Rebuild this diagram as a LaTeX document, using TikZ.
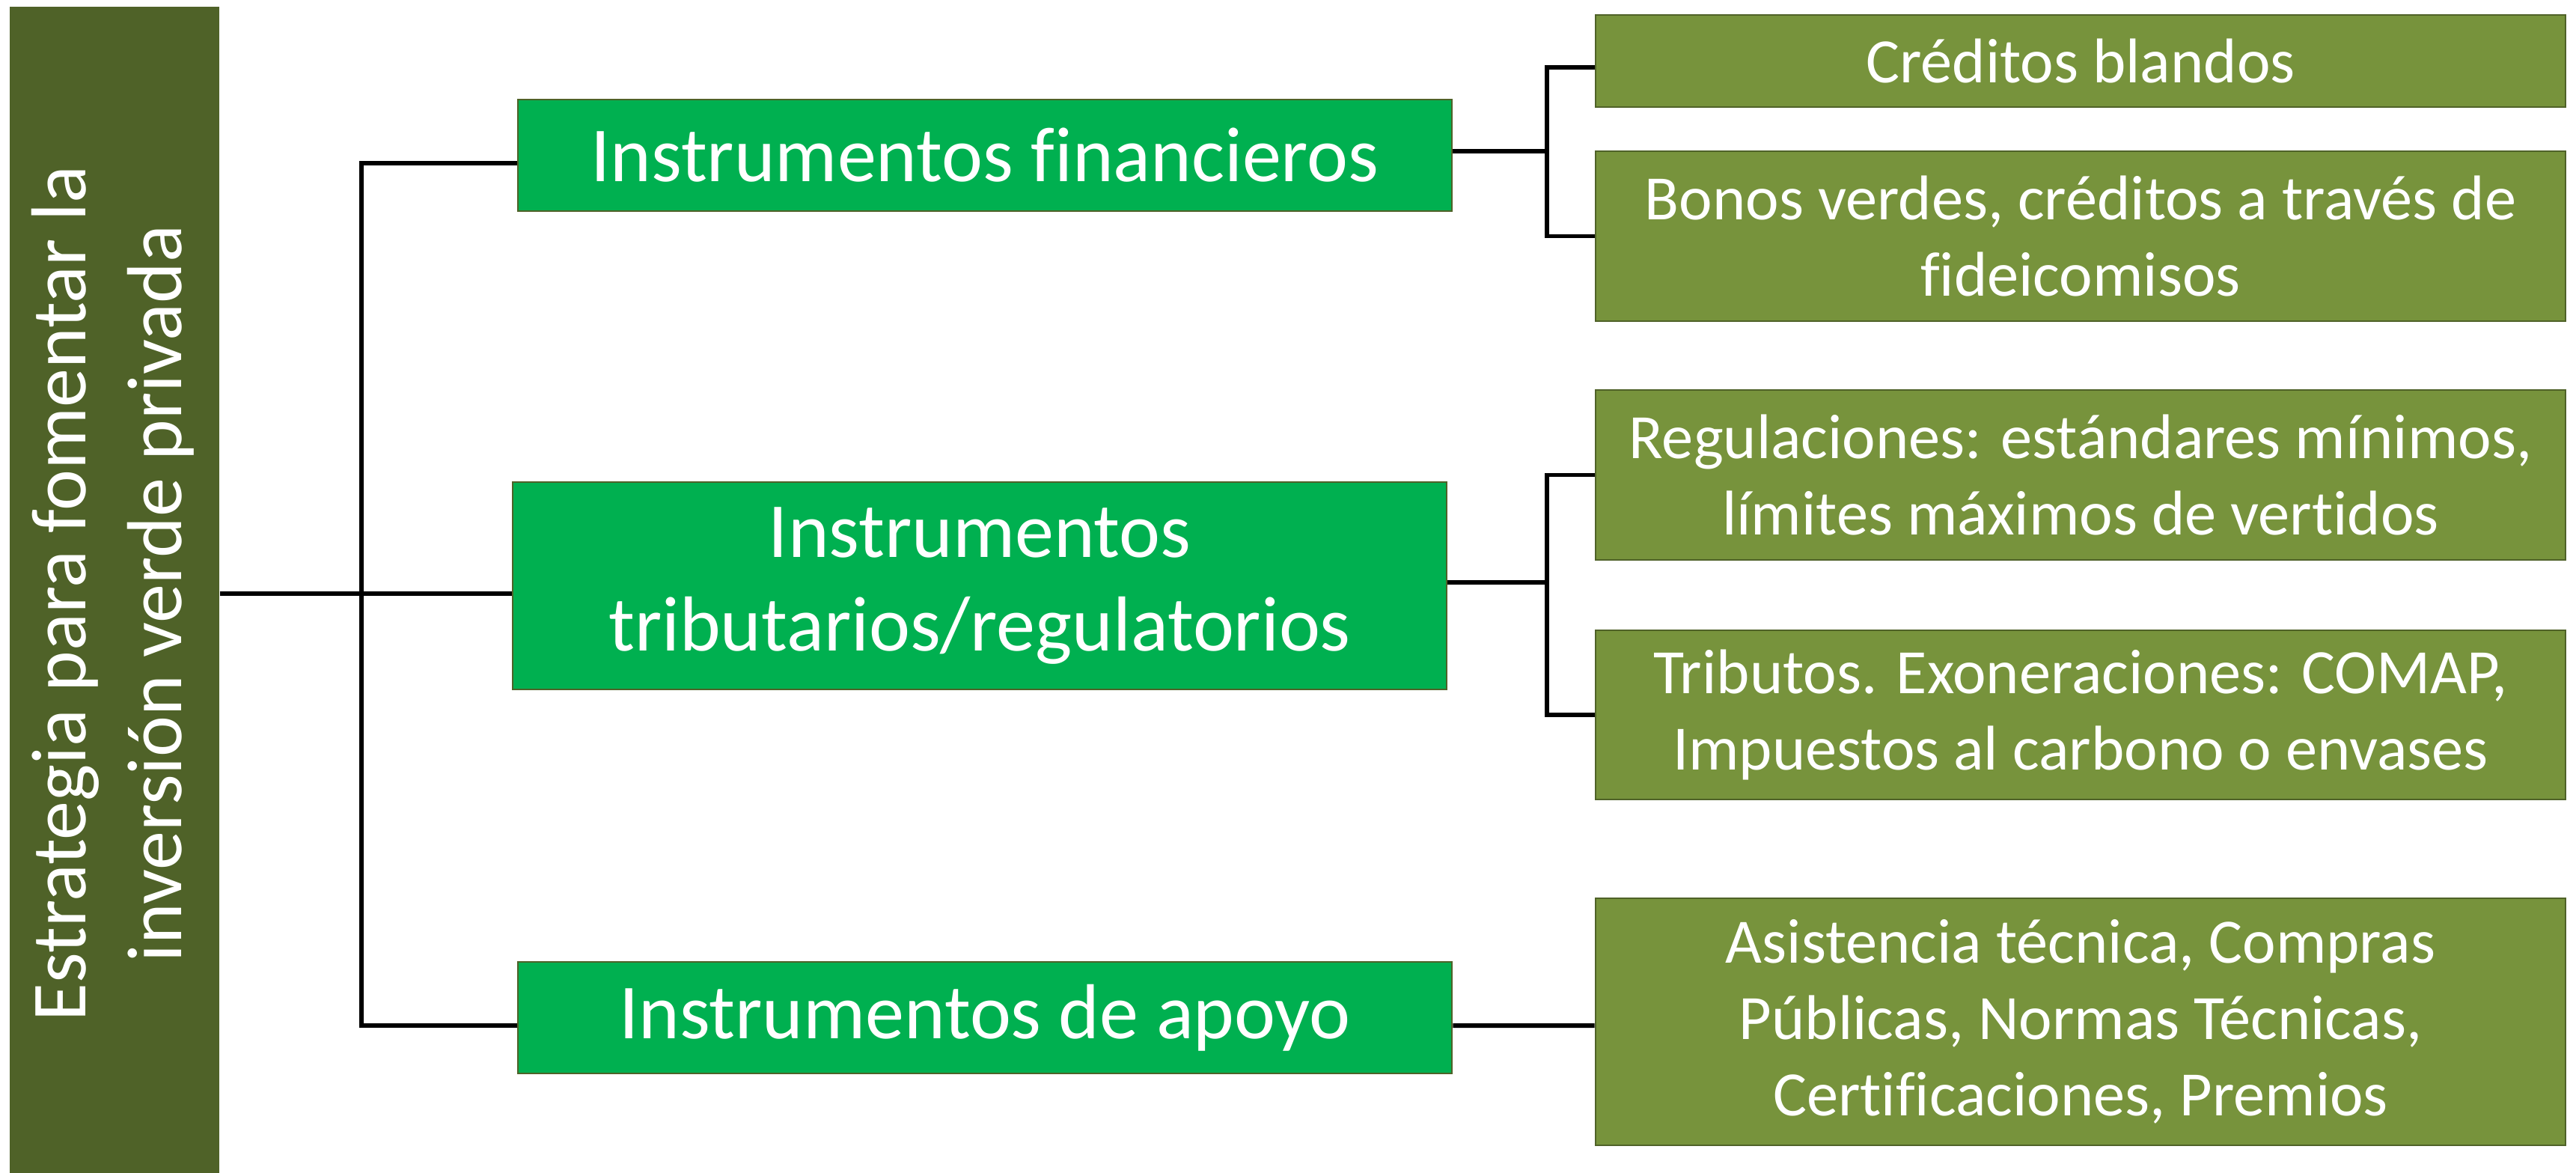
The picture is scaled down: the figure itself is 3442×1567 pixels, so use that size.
\documentclass[tikz,border=0pt]{standalone}
\usepackage{fontspec}
\setmainfont{Carlito}[Ligatures=NoCommon]
\usepackage{graphicx}
\usetikzlibrary{positioning}
\definecolor{olivedark}{HTML}{4F6228}
\definecolor{instgreen}{HTML}{00B050}
\definecolor{itemolive}{HTML}{77933C}
\tikzset{
    rootbox/.style={fill=olivedark, text=white, inner sep=0pt, minimum width=2.8cm, minimum height=15.68cm, font=\fontsize{29.6}{36.4}\selectfont},
    instbox/.style={fill=instgreen, draw=olivedark, line width=0.6pt, text=white, align=center, inner sep=0pt, minimum width=12.48cm, font=\fontsize{29.6}{35.5}\selectfont},
    itembox/.style={fill=itemolive, draw=olivedark, line width=0.6pt, text=white, align=center, inner sep=0pt, minimum width=12.96cm, font=\fontsize{24}{29}\selectfont},
    link/.style={draw=black, line width=1.7pt},
  }

\begin{document}
\begin{tikzpicture}[x=0.01cm,y=-0.01cm]
							\pgfmathsetmacro\instx{1316}
							\pgfmathsetmacro\itemx{2780}
							\useasboundingbox (0,0) rectangle (3442,1567);

							\node[rootbox] (root) at (153,793) {\rotatebox{90}{\begin{tabular}{@{}c@{}}Estrategia para fomentar la\\inversión verde privada\end{tabular}}};

							\node[instbox, minimum height=1.49cm] (fin) at (\instx,207.5) {Instrumentos financieros};
							\node[instbox, minimum height=2.77cm] (trib) at (\instx-7,782.5) {Instrumentos\\tributarios/regulatorios};
							\node[instbox, minimum height=1.49cm] (apoyo) at (\instx,1359.5) {Instrumentos de apoyo};

							\node[itembox, minimum height=1.23cm] (cred) at (\itemx,81.5) {Créditos blandos};
							\node[itembox, minimum height=2.27cm] (bonos) at (\itemx,315.5) {Bonos verdes, créditos a través de\\fideicomisos};
							\node[itembox, minimum height=2.27cm] (regul) at (\itemx,634.5) {Regulaciones: estándares mínimos,\\límites máximos de vertidos};
							\node[itembox, minimum height=2.26cm] (tribu) at (\itemx,955) {Tributos. Exoneraciones: COMAP,\\Impuestos al carbono o envases};
							\node[itembox, minimum height=3.30cm] (asist) at (\itemx,1365) {Asistencia técnica, Compras\\Públicas, Normas Técnicas,\\Certificaciones, Premios};

							% tronco
							\draw[link] (root.east) -- (trib.west |- root.east);
							\draw[link] ([yshift=-1.05mm]fin.west) -- ++(-208,0) |- ([yshift=-1.05mm]apoyo.west);

							\draw[link] ([yshift=0.55mm]fin.east) -- ++(128,0);
							\draw[link] ([yshift=-0.85mm]cred.west) -- ++(-64,0) |- (bonos.west);
							\draw[link] ([yshift=0.45mm]trib.east) -- ++(135,0);
							\draw[link] (regul.west) -- ++(-64,0) |- (tribu.west);
							\draw[link] ([yshift=-1.05mm]apoyo.east) -- ([yshift=-0.5mm]asist.west);
						\end{tikzpicture}
\end{document}
